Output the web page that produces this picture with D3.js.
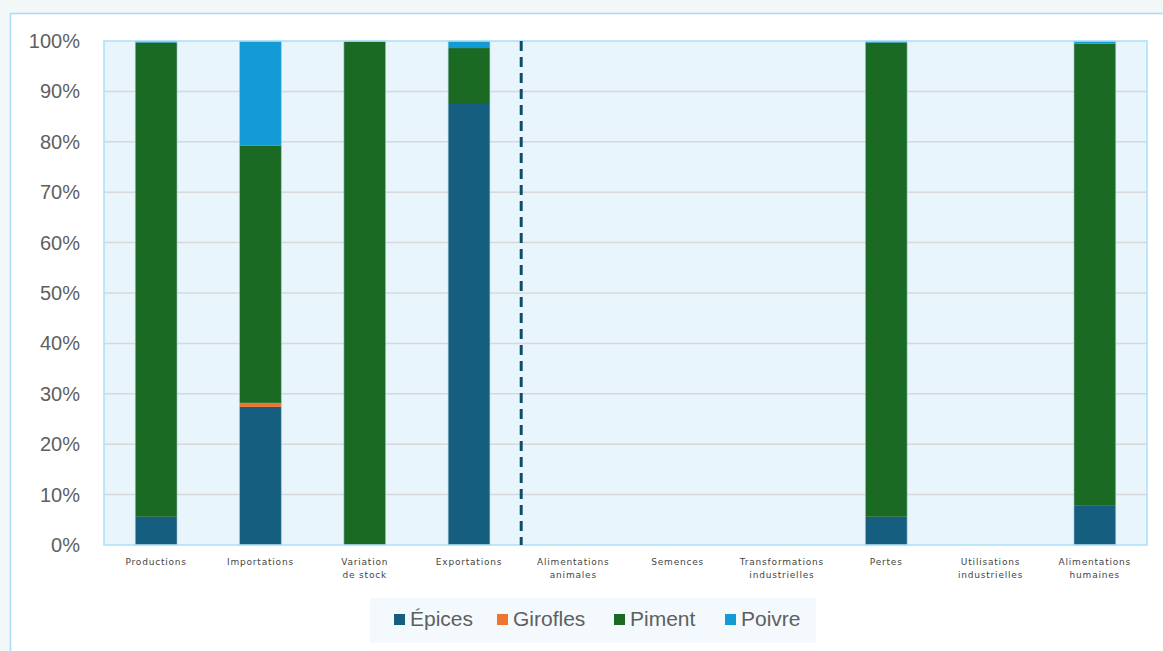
<!DOCTYPE html>
<html lang="fr">
<head>
<meta charset="utf-8">
<title>Épices</title>
<script src="https://cdn.jsdelivr.net/npm/d3@7"></script>
<style>
  html, body { margin: 0; padding: 0; background: #f2f7f8; }
  svg { display: block; font-family: "Liberation Sans", Arial, sans-serif; }
</style>
</head>
<body>
<svg id="chart" width="1163" height="651"></svg>
<script>
// categories (two-line labels split on |)
const categories = [
  "Productions", "Importations", "Variation|de stock", "Exportations",
  "Alimentations|animales", "Semences", "Transformations|industrielles",
  "Pertes", "Utilisations|industrielles", "Alimentations|humaines"
];
const series = ["Épices", "Girofles", "Piment", "Poivre"];
const colors = ["#165e80", "#ee7430", "#1b6a24", "#139bd6"];

// shares in %, per category
const epices   = [5.6, 27.4, 0,    87.5, 0, 0, 0, 5.6,  0, 7.9];
const girofles = [0,   0.8,  0,    0,    0, 0, 0, 0,    0, 0];
const piment   = [94.1, 51,  99.8, 11.1, 0, 0, 0, 94.1, 0, 91.6];
const poivre   = [0.3, 20.8, 0.2,  1.4,  0, 0, 0, 0.3,  0, 0.5];

const yTicks = [0, 10, 20, 30, 40, 50, 60, 70, 80, 90, 100];

const svg = d3.select("#chart");

// white panel
svg.append("rect")
  .attr("x", 10.5).attr("y", 13.5)
  .attr("width", 1170).attr("height", 660)
  .attr("fill", "#fff").attr("stroke", "#a9dcf4").attr("stroke-width", 1.5);

const m = {left: 104, right: 1147, top: 41, bottom: 545};

const x = d3.scaleBand().domain(d3.range(categories.length))
  .range([m.left, m.right]).paddingInner(0.6).paddingOuter(0.3);
const y = d3.scaleLinear().domain([0, 100]).range([m.bottom, m.top]);

// plot area
svg.append("rect")
  .attr("x", m.left).attr("y", m.top)
  .attr("width", m.right - m.left).attr("height", m.bottom - m.top)
  .attr("fill", "#e9f5fc");

// gridlines
svg.append("g")
  .selectAll("line").data(yTicks.slice(1, -1)).join("line")
  .attr("x1", m.left).attr("x2", m.right)
  .attr("y1", d => y(d)).attr("y2", d => y(d))
  .attr("stroke", "#d6d8da").attr("stroke-width", 1.5);

// y axis labels
const yAxis = d3.axisLeft(y).tickValues(yTicks).tickFormat(d => d + "%").tickSize(0).tickPadding(0);
svg.append("g")
  .attr("transform", "translate(80,0)")
  .call(yAxis)
  .call(g => g.select(".domain").remove())
  .selectAll("text")
  .attr("font-size", 20).attr("fill", "#5f5f5f")
  .attr("font-family", "'Liberation Sans', Arial, sans-serif");

// stacked bars
const rows = categories.map((c, i) => ({
  i: i, "Épices": epices[i], "Girofles": girofles[i], "Piment": piment[i], "Poivre": poivre[i]
}));
const stack = d3.stack().keys(series)(rows);

svg.append("g")
  .selectAll("g").data(stack).join("g")
  .attr("fill", (d, k) => colors[k])
  .selectAll("rect").data(d => d.filter(p => p[1] - p[0] > 0)).join("rect")
  .attr("x", p => x(p.data.i))
  .attr("width", x.bandwidth())
  .attr("y", p => y(p[1]))
  .attr("height", p => y(p[0]) - y(p[1]));

// thin light edges around each bar
const total = r => r["Épices"] + r["Girofles"] + r["Piment"] + r["Poivre"];
svg.append("g")
  .selectAll("rect").data(rows.filter(r => total(r) > 0)).join("rect")
  .attr("x", r => x(r.i))
  .attr("width", x.bandwidth())
  .attr("y", r => y(total(r)))
  .attr("height", r => y(0) - y(total(r)))
  .attr("fill", "none").attr("stroke", "#9fc7cf").attr("stroke-width", 0.8).attr("stroke-opacity", 0.7);

// plot border
svg.append("rect")
  .attr("x", m.left).attr("y", m.top)
  .attr("width", m.right - m.left).attr("height", m.bottom - m.top)
  .attr("fill", "none").attr("stroke", "#abdff7").attr("stroke-width", 1.5);

// dashed separator between Exportations and Alimentations animales
const sepX = (x(3) + x.bandwidth() + x(4)) / 2;
svg.append("line")
  .attr("x1", sepX).attr("x2", sepX)
  .attr("y1", y(100)).attr("y2", y(0))
  .attr("stroke", "#0d4f6b").attr("stroke-width", 3)
  .attr("stroke-dasharray", "10,6");

// x labels
const xl = svg.append("g").selectAll("text").data(categories).join("text")
  .attr("x", (d, i) => x(i) + x.bandwidth() / 2)
  .attr("y", 565)
  .attr("text-anchor", "middle")
  .attr("font-size", 9).attr("fill", "#444")
  .attr("font-family", "'DejaVu Sans', sans-serif")
  .attr("letter-spacing", 0.8);
xl.selectAll("tspan").data(d => d.split("|")).join("tspan")
  .attr("x", function() { return this.parentNode.getAttribute("x"); })
  .attr("dy", (d, j) => j === 0 ? 0 : 13)
  .text(d => d);

// legend
const lg = svg.append("g");
lg.append("rect")
  .attr("x", 370).attr("y", 598).attr("width", 446).attr("height", 45)
  .attr("fill", "#f3f9fc");
const legendX = [394, 497, 614, 725];
const li = lg.selectAll("g").data(series).join("g")
  .attr("transform", (d, k) => `translate(${legendX[k]},0)`);
li.append("rect")
  .attr("x", 0).attr("y", 614).attr("width", 11).attr("height", 11)
  .attr("fill", (d, k) => colors[k]);
li.append("text")
  .attr("x", 16).attr("y", 626)
  .attr("font-size", 21).attr("fill", "#5f5f5f")
  .attr("font-family", "'Liberation Sans', Arial, sans-serif")
  .text(d => d);
</script>
</body>
</html>
